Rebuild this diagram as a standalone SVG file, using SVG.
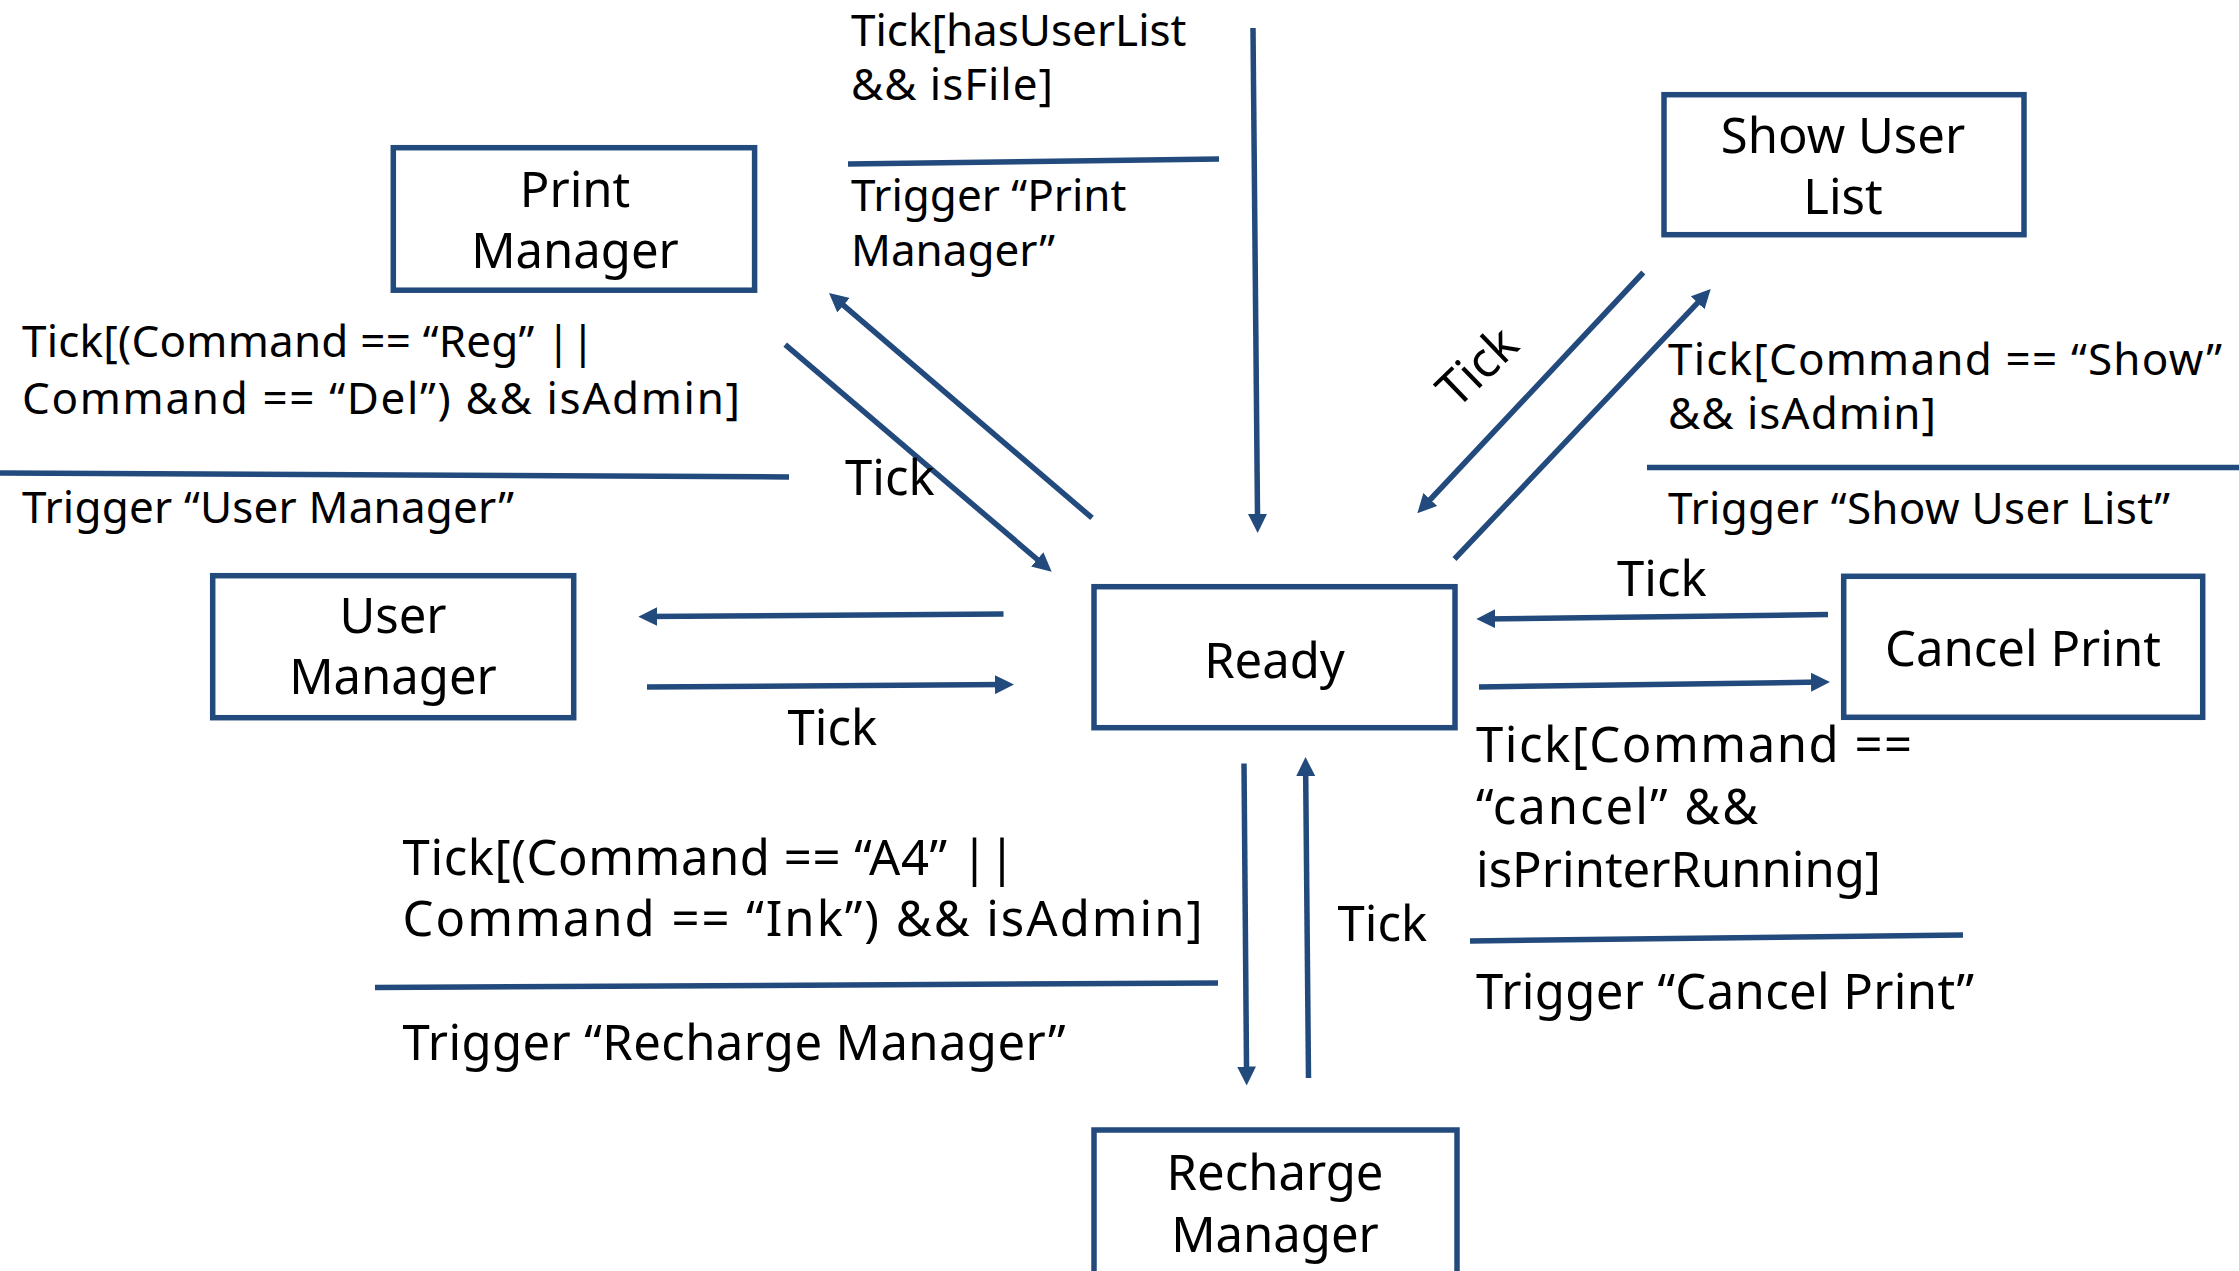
<svg xmlns="http://www.w3.org/2000/svg" width="2239" height="1271" viewBox="0 0 2239 1271">
<style>
.box{fill:#fff;stroke:#234A7D;stroke-width:5.5;stroke-linejoin:miter}
.ln{stroke:#234A7D;stroke-width:5.5;fill:none}
.ar{stroke:#234A7D;stroke-width:5.5;fill:none;marker-end:url(#ah)}
text{font-family:"Noto Sans","Liberation Sans",sans-serif;fill:#000}
.s{font-size:44px}
.l{font-size:49px}
.c{font-size:49px;text-anchor:middle}
</style>
<defs>
<marker id="ah" markerUnits="userSpaceOnUse" markerWidth="19" markerHeight="19" viewBox="0 0 19 19" refX="11" refY="9.5" orient="auto">
<path d="M0,0 L19,9.5 L0,19 z" fill="#234A7D"/>
</marker>
</defs>
<rect width="2239" height="1271" fill="#fff"/>

<g id="node-print-manager">
<rect class="box" x="393.3" y="147.7" width="361.3" height="142.5"/>
<text class="c" x="575" y="207">Print</text>
<text class="c" x="575" y="268">Manager</text>
</g>
<g id="node-show-user-list">
<rect class="box" x="1664" y="94.7" width="360" height="140"/>
<text class="c" x="1843" y="153">Show User</text>
<text class="c" x="1843" y="214">List</text>
</g>
<g id="node-user-manager">
<rect class="box" x="212.7" y="575.7" width="361" height="142"/>
<text class="c" x="393" y="633">User</text>
<text class="c" x="393" y="694">Manager</text>
</g>
<g id="node-ready">
<rect class="box" x="1094" y="586.7" width="361" height="141"/>
<text class="c" x="1274.5" y="677.5">Ready</text>
</g>
<g id="node-cancel-print">
<rect class="box" x="1843.7" y="576.3" width="359" height="141"/>
<text class="c" x="2023" y="666">Cancel Print</text>
</g>
<g id="node-recharge-manager">
<rect class="box" x="1094" y="1130" width="363" height="150"/>
<text class="c" x="1275" y="1190">Recharge</text>
<text class="c" x="1275" y="1251.7">Manager</text>
</g>

<g id="connectors">
<line class="ar" x1="1253" y1="28" x2="1257.6" y2="525"/>
<line class="ar" x1="1092" y1="517.9" x2="835.1" y2="298.1"/>
<line class="ar" x1="785.2" y1="344.6" x2="1045.6" y2="566.5"/>
<line class="ar" x1="1643.3" y1="272.5" x2="1422.8" y2="507.5"/>
<line class="ar" x1="1454.5" y1="559" x2="1705.2" y2="294.8"/>
<line class="ar" x1="1828" y1="614.6" x2="1484.3" y2="618.9"/>
<line class="ar" x1="1479" y1="687" x2="1822" y2="682.1"/>
<line class="ar" x1="1003.5" y1="614" x2="646.3" y2="616.6"/>
<line class="ar" x1="647" y1="687" x2="1006" y2="684.55"/>
<line class="ar" x1="1244" y1="763.5" x2="1246.6" y2="1077.5"/>
<line class="ar" x1="1308.5" y1="1078" x2="1305.6" y2="765"/>
<line class="ln" x1="848" y1="164" x2="1219" y2="159"/>
<line class="ln" x1="0" y1="473" x2="789" y2="477"/>
<line class="ln" x1="1647" y1="467.5" x2="2239" y2="467.5"/>
<line class="ln" x1="375" y1="987.5" x2="1218" y2="983"/>
<line class="ln" x1="1470" y1="941" x2="1963" y2="935"/>
</g>

<g id="labels">
<text class="s" x="851" y="46.4">Tick[hasUserList</text>
<text class="s" x="851" y="100" textLength="202" lengthAdjust="spacing">&amp;&amp; isFile]</text>
<text class="s" x="851" y="210.7">Trigger “Print</text>
<text class="s" x="851" y="266">Manager”</text>
<text class="s" x="22" y="357" textLength="573" lengthAdjust="spacing">Tick[(Command == “Reg” ||</text>
<text class="s" x="22" y="414" textLength="718" lengthAdjust="spacing">Command == “Del”) &amp;&amp; isAdmin]</text>
<text class="s" x="22" y="523" textLength="492" lengthAdjust="spacing">Trigger “User Manager”</text>
<text class="s" x="1668" y="375" textLength="554" lengthAdjust="spacing">Tick[Command == “Show”</text>
<text class="s" x="1668" y="428.6" textLength="268" lengthAdjust="spacing">&amp;&amp; isAdmin]</text>
<text class="s" x="1668" y="524" textLength="502" lengthAdjust="spacing">Trigger “Show User List”</text>
<text class="l" x="845" y="495">Tick</text>
<text class="l" x="787.6" y="745">Tick</text>
<text class="l" x="1617" y="596">Tick</text>
<text class="l" x="1337.5" y="941">Tick</text>
<text class="l" text-anchor="middle" transform="translate(1489,379) rotate(-44)">Tick</text>
<text class="l" x="402.6" y="874.7" textLength="613" lengthAdjust="spacing">Tick[(Command == “A4” ||</text>
<text class="l" x="402.6" y="936" textLength="800" lengthAdjust="spacing">Command == “Ink”) &amp;&amp; isAdmin]</text>
<text class="l" x="402.6" y="1060" textLength="663" lengthAdjust="spacing">Trigger “Recharge Manager”</text>
<text class="l" x="1476" y="761.5" textLength="436" lengthAdjust="spacing">Tick[Command ==</text>
<text class="l" x="1476" y="824" textLength="282" lengthAdjust="spacing">“cancel” &amp;&amp;</text>
<text class="l" x="1476" y="887">isPrinterRunning]</text>
<text class="l" x="1476" y="1008.5" textLength="498" lengthAdjust="spacing">Trigger “Cancel Print”</text>
</g>
</svg>
